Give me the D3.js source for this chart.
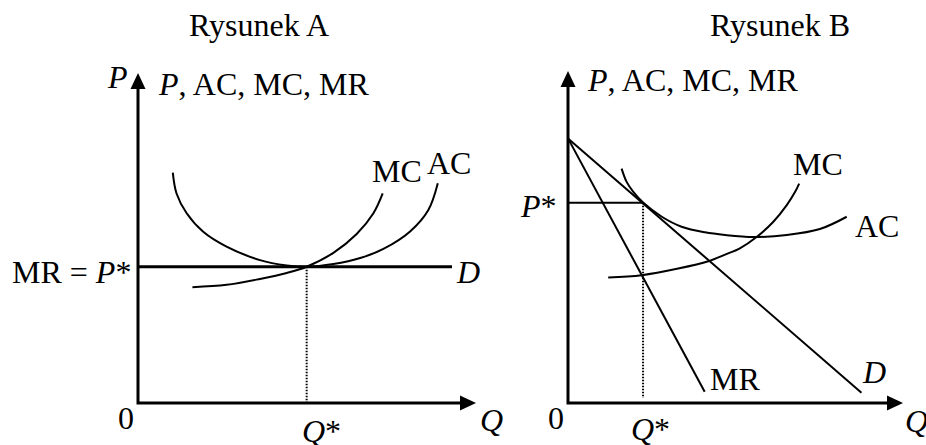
<!DOCTYPE html>
<html>
<head>
<meta charset="utf-8">
<script src="https://cdn.jsdelivr.net/npm/d3@7"></script>
<style>
  html, body { margin: 0; padding: 0; background: #fff; }
  svg { display: block; }
  text { font-family: "Liberation Serif", "Times New Roman", serif; fill: #000; }
</style>
</head>
<body>
<svg id="chart" width="926" height="445"></svg>
<script>
// ---------- DATA (abstract units: Q on x, P on y, both 0..10) ----------
const panelTitles = ["Rysunek A", "Rysunek B"];
const axisLabel = ", AC, MC, MR";

// Panel A (perfect competition)
const pStarA = 4.13;
const qStarA = 4.99;
const demandA = [[0, 4.13], [9.29, 4.13]];
const acA = [[1.03,6.98],[1.14,6.35],[1.44,5.75],[1.93,5.19],[2.62,4.74],[3.61,4.33],
             [4.40,4.17],[4.99,4.13],[5.78,4.21],[6.60,4.40],[7.26,4.67],[8.05,5.20],
             [8.59,5.85],[8.87,6.66]];
const mcA = [[1.61,3.51],[2.62,3.58],[3.61,3.76],[4.40,3.94],[4.99,4.13],[5.78,4.55],
             [6.47,5.12],[6.96,5.74],[7.24,6.35]];

// Panel B (monopolistic competition)
const pStarB = 6.03;
const qStarB = 2.24;
const demandB = [[0, 7.97], [8.76, 0.31]];
const mrB = [[0, 7.97], [4.08, 0.34]];
const acB = [[1.60,7.06],[1.75,6.66],[1.95,6.36],[2.25,6.03],[2.80,5.61],[3.39,5.31],
             [4.09,5.14],[4.69,5.06],[5.53,5.00],[6.53,5.06],[7.52,5.24],[8.32,5.61]];
const mcB = [[1.20,3.78],[2.20,3.85],[3.29,4.05],[4.19,4.27],[4.69,4.47],[5.13,4.66],
             [5.63,5.00],[6.13,5.46],[6.53,5.96],[6.78,6.36],[6.90,6.61]];

// ---------- DRAWING ----------
const svg = d3.select("#chart");

const xA = d3.scaleLinear().domain([0, 10]).range([138, 476]);
const yA = d3.scaleLinear().domain([0, 10]).range([403, 73]);
const xB = d3.scaleLinear().domain([0, 10]).range([568, 903]);
const yB = d3.scaleLinear().domain([0, 10]).range([403, 71]);

function curve(g, data, x, y, width) {
  g.append("path")
    .datum(data)
    .attr("fill", "none")
    .attr("stroke", "#000")
    .attr("stroke-width", width)
    .attr("d", d3.line().x(d => x(d[0])).y(d => y(d[1])).curve(d3.curveCatmullRom.alpha(0.5)));
}

function axes(g, x, y) {
  const ox = x(0), oy = y(0), tx = x(10), ty = y(10);
  const L = 16, W = 7.5;
  g.append("path")
    .attr("fill", "none").attr("stroke", "#000").attr("stroke-width", 3)
    .attr("d", `M${ox},${ty + L - 1}L${ox},${oy}L${tx - L + 1},${oy}`);
  g.append("path").attr("fill", "#000")
    .attr("d", `M${ox},${ty}L${ox - W},${ty + L}L${ox + W},${ty + L}Z`);
  g.append("path").attr("fill", "#000")
    .attr("d", `M${tx},${oy}L${tx - L},${oy - W}L${tx - L},${oy + W}Z`);
}

function label(g, parts, px, py, size) {
  const t = g.append("text").attr("x", px).attr("y", py).style("font-size", size + "px");
  parts.forEach(p => {
    t.append("tspan").text(p[0]).style("font-style", p[1] ? "italic" : "normal");
  });
  return t;
}

const FS = 32;

// ----- Panel A -----
const gA = svg.append("g");
axes(gA, xA, yA);
gA.append("line")
  .attr("x1", xA(qStarA)).attr("x2", xA(qStarA))
  .attr("y1", yA(pStarA)).attr("y2", yA(0))
  .attr("stroke", "#000").attr("stroke-width", 2).attr("stroke-dasharray", "1.5,1.5");
curve(gA, demandA, xA, yA, 3);
curve(gA, acA, xA, yA, 2);
curve(gA, mcA, xA, yA, 2);

label(gA, [[panelTitles[0], false]], 189, 36, FS);
label(gA, [["P", true]], 108, 88, FS);
label(gA, [["P", true], [axisLabel, false]], 159, 95, FS);
label(gA, [["MR = ", false], ["P", true], ["*", false]], 12, 283, FS);
label(gA, [["D", true]], 457, 283, FS);
label(gA, [["MC", false]], 372, 182, FS);
label(gA, [["AC", false]], 427, 174, FS);
label(gA, [["0", false]], 118, 429, FS);
label(gA, [["Q", true]], 480, 431, FS);
label(gA, [["Q", true], ["*", false]], 302, 442, FS);

// ----- Panel B -----
const gB = svg.append("g");
axes(gB, xB, yB);
gB.append("line")
  .attr("x1", xB(0)).attr("x2", xB(qStarB))
  .attr("y1", yB(pStarB)).attr("y2", yB(pStarB))
  .attr("stroke", "#000").attr("stroke-width", 2);
gB.append("line")
  .attr("x1", xB(qStarB)).attr("x2", xB(qStarB))
  .attr("y1", yB(pStarB)).attr("y2", yB(0.15))
  .attr("stroke", "#000").attr("stroke-width", 2).attr("stroke-dasharray", "1.5,1.5");
curve(gB, demandB, xB, yB, 2);
curve(gB, mrB, xB, yB, 2);
curve(gB, acB, xB, yB, 2);
curve(gB, mcB, xB, yB, 2);

label(gB, [[panelTitles[1], false]], 710, 36, FS);
label(gB, [["P", true], [axisLabel, false]], 588, 90.5, FS);
label(gB, [["P", true], ["*", false]], 521, 216.5, FS);
label(gB, [["MC", false]], 793, 175, FS);
label(gB, [["AC", false]], 855, 237, FS);
label(gB, [["MR", false]], 710, 390, FS);
label(gB, [["D", true]], 863, 383, FS);
label(gB, [["0", false]], 548, 429, FS);
label(gB, [["Q", true]], 905, 432, FS);
label(gB, [["Q", true], ["*", false]], 631, 440, FS);
</script>
</body>
</html>
